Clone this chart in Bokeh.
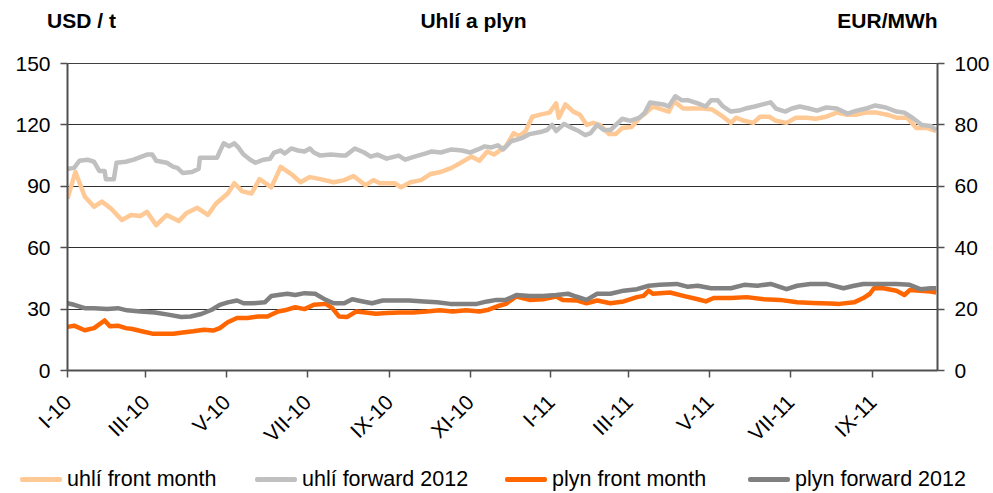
import pandas as pd
from bokeh.plotting import figure
from bokeh.layouts import column
from bokeh.models import (Range1d, LinearAxis, FixedTicker, Div)
from bokeh.embed import file_html
from bokeh.resources import INLINE

# ---------------- data ----------------
START = "2010-01-01"
END_DAY = 657

title_text = "Uhlí a plyn"
left_title = "USD / t"
right_title = "EUR/MWh"

tick_dates = ["2010-01-01", "2010-03-01", "2010-05-01", "2010-07-01", "2010-09-01", "2010-11-01",
              "2011-01-01", "2011-03-01", "2011-05-01", "2011-07-01", "2011-09-01"]
tick_labels = ["I-10", "III-10", "V-10", "VII-10", "IX-10", "XI-10",
               "I-11", "III-11", "V-11", "VII-11", "IX-11"]
left_ticks = [0, 30, 60, 90, 120, 150]
right_ticks = [0, 20, 40, 60, 80, 100]

# uhlí front month (USD/t), days since 2010-01-01
coal_front_day = [0, 6, 13, 20, 26, 33, 41, 48, 55, 60, 67, 75, 84, 90, 98, 106, 112, 121, 126, 132,
                  139, 145, 154, 161, 169, 176, 183, 191, 201, 209, 216, 225, 231, 236, 247, 252, 259,
                  267, 274, 282, 290, 297, 305, 311, 317, 322, 331, 337, 341, 346, 351, 357, 364, 369,
                  371, 376, 382, 387, 392, 397, 402, 409, 414, 419, 426, 432, 437, 442, 447, 454, 458,
                  465, 472, 480, 487, 495, 501, 505, 511, 518, 523, 530, 535, 543, 550, 558, 565, 573,
                  581, 588, 596, 603, 611, 619, 626, 634, 641, 649, 656]
coal_front = [84, 97, 85, 80, 82.5, 79, 73.5, 76, 75.5, 77.5, 71, 76, 73, 77, 79.5, 76, 81.5, 86.5, 91.5, 87.5,
              86.5, 93.5, 89.5, 99.5, 96, 92, 94.5, 93.5, 92, 93, 95, 90.5, 93, 91.5, 91.5, 89.5, 92,
              93, 96, 97, 99, 101.5, 104.5, 102.5, 107, 105.5, 109.5, 116, 114.5, 117, 124, 125, 126, 130.5,
              123.5, 130, 126.5, 125, 120, 121, 120, 115.5, 115.5, 118.5, 119, 123.5, 126, 129, 128, 126.5, 131.5,
              128, 128, 128, 127.5, 124, 121, 123.5, 122, 121, 124, 124, 122, 121, 123.5, 123.5, 123, 124,
              126, 125, 125, 126, 126, 125, 123.5, 123.5, 118.5, 118.5, 117]

# uhlí forward 2012 (USD/t)
coal_fwd_day = [0, 5, 9, 15, 20, 24, 28, 29, 35, 37, 44, 50, 54, 60, 64, 67, 75, 80, 83, 87, 94, 99, 100,
                113, 115, 118, 122, 126, 129, 133, 138, 142, 148, 153, 156, 161, 164, 169, 174, 179, 183,
                186, 191, 199, 207, 210, 217, 224, 229, 234, 241, 250, 255, 262, 270, 275, 282, 290, 298,
                304, 310, 315, 320, 325, 329, 335, 343, 349, 357, 362, 366, 369, 375, 381, 386, 391, 395,
                400, 405, 410, 419, 425, 432, 436, 440, 445, 450, 454, 459, 464, 469, 476, 482, 486, 491,
                495, 501, 507, 512, 519, 525, 531, 535, 542, 547, 553, 560, 566, 573, 581, 589, 596, 603,
                610, 618, 626, 632, 638, 645, 652, 656]
coal_fwd = [98.5, 99, 102.5, 103, 102, 97.5, 97.5, 93.5, 93.5, 101.5, 102, 103, 104, 105.5, 105.5, 102.5,
            101.5, 99.5, 99, 96.5, 97, 98.5, 104, 104, 107, 111, 109.5, 111, 109, 105.5, 103, 101.5, 103,
            103.5, 106.5, 107.5, 106, 108.5, 107.5, 107, 108.5, 106.5, 105, 105.5, 105, 105, 108.5, 106.5,
            104.5, 105.5, 103.5, 105, 103, 104.5, 106, 107, 106.5, 108, 107.5, 106.5, 108, 109.5, 109, 110,
            108, 112, 113.5, 115.5, 116.5, 117.5, 120, 117, 120.5, 118.5, 117, 115, 116, 120, 117.5, 117.5,
            123, 122, 123.5, 126, 131, 130.5, 130, 129, 134, 132, 132, 130.5, 129, 132, 132, 129, 126.5,
            127, 128, 129, 130, 131, 128, 126.5, 128, 129, 128, 127, 128.5, 128, 125.5, 127, 128, 129.5,
            128.5, 126.5, 126, 123.5, 120, 119.5, 117.5]

# plyn front month (EUR/MWh)
gas_front_day = [0, 5, 13, 20, 28, 32, 38, 44, 49, 56, 64, 72, 80, 87, 95, 103, 110, 115, 121, 128, 136,
                 144, 151, 159, 164, 172, 179, 186, 195, 200, 205, 211, 218, 225, 233, 241, 251, 261, 271,
                 281, 291, 301, 311, 318, 326, 331, 339, 349, 359, 369, 374, 385, 392, 400, 410, 420, 430,
                 435, 439, 442, 455, 465, 476, 482, 488, 501, 513, 526, 538, 551, 563, 576, 583, 594, 601,
                 606, 609, 616, 626, 632, 636, 644, 652, 656]
gas_front = [14.2, 14.6, 13.1, 13.8, 16.3, 14.4, 14.6, 13.8, 13.5, 12.8, 12, 12, 12, 12.4, 12.8, 13.3, 13,
             13.8, 15.7, 17.1, 17.1, 17.6, 17.6, 19.2, 19.6, 20.6, 20, 21.4, 21.7, 20.3, 17.6, 17.4, 19.2,
             18.9, 18.5, 18.7, 18.9, 18.9, 19.2, 19.6, 19.2, 19.6, 19.2, 19.8, 21.1, 21.7, 24.1, 23, 23.2,
             24.1, 23, 22.8, 21.9, 22.8, 21.9, 22.5, 23.9, 24.3, 26, 25, 25.4, 24.3, 23.2, 22.5, 23.6, 23.6,
             23.9, 23.2, 23, 22.2, 22, 21.8, 21.7, 22.2, 23.6, 25, 26.8, 26.8, 26, 24.6, 26.2, 26, 25.7, 25.4]

# plyn forward 2012 (EUR/MWh)
gas_fwd_day = [0, 5, 13, 20, 30, 38, 45, 55, 66, 76, 86, 93, 101, 109, 115, 121, 128, 133, 140, 149, 154,
               159, 166, 172, 179, 187, 195, 201, 209, 215, 223, 230, 238, 248, 258, 269, 279, 289, 299,
               309, 317, 324, 331, 339, 349, 359, 369, 378, 384, 392, 400, 410, 420, 430, 439, 447, 460,
               468, 476, 486, 501, 511, 521, 531, 543, 551, 561, 573, 586, 594, 601, 614, 626, 636, 644,
               652, 656]
gas_fwd = [21.9, 21.4, 20.3, 20.3, 20, 20.3, 19.6, 19.2, 18.9, 18.2, 17.4, 17.6, 18.4, 19.8, 21.4, 22.2,
           22.8, 21.9, 21.9, 22.2, 24.3, 24.6, 25, 24.6, 25.2, 25, 23, 21.9, 21.9, 23.2, 22.5, 21.9, 22.8,
           22.8, 22.8, 22.5, 22.2, 21.7, 21.7, 21.7, 22.5, 23, 23, 24.6, 24.3, 24.3, 24.6, 25, 24.1, 23, 25,
           25, 26, 26.5, 27.6, 27.9, 28.2, 27.3, 27.6, 26.8, 26.8, 27.9, 27.6, 28.2, 26.5, 27.6, 28.2, 28.2,
           26.8, 27.6, 28.2, 28.2, 28.2, 27.9, 26.5, 26.8, 26.8]

series_names = ["uhlí front month", "uhlí forward 2012", "plyn front month", "plyn forward 2012"]
series_colors = ["#FFC996", "#C0C0C0", "#FF6600", "#808080"]

# ---------------- helpers ----------------
t0 = pd.Timestamp(START)


def dates(days):
    return [t0 + pd.Timedelta(days=d) for d in days]


FONT = "Liberation Sans"
FRAME_W = 870  # frame width in px (993 - 67 - 56)
LW = 4.5

p = figure(width=993, height=466, x_axis_type="datetime", output_backend="svg", toolbar_location=None,
           x_range=Range1d(t0, t0 + pd.Timedelta(days=END_DAY)), y_range=Range1d(0, 150),
           min_border_left=67, min_border_right=56, min_border_top=63, min_border_bottom=96)
p.outline_line_color = "#404040"
p.outline_line_width = 1
p.background_fill_color = "white"
p.border_fill_color = "white"
p.extra_y_ranges = {"eur": Range1d(0, 100)}
p.extra_x_ranges = {"hdr": Range1d(0, FRAME_W)}

p.line(dates(coal_front_day), coal_front, color=series_colors[0], line_width=LW, line_join="round")
p.line(dates(coal_fwd_day), coal_fwd, color=series_colors[1], line_width=LW, line_join="round")
p.line(dates(gas_front_day), gas_front, color=series_colors[2], line_width=LW, line_join="round",
       y_range_name="eur")
p.line(dates(gas_fwd_day), gas_fwd, color=series_colors[3], line_width=LW, line_join="round",
       y_range_name="eur")

# x axis
tick_ms = [int(pd.Timestamp(d).value // 10**6) for d in tick_dates]
xax = p.xaxis[0]
xax.ticker = FixedTicker(ticks=tick_ms)
xax.major_label_overrides = {ms: lab for ms, lab in zip(tick_ms, tick_labels)}
xax.major_label_orientation = 0.785398
xax.major_label_standoff = 21

# left axis
yax = p.yaxis[0]
yax.ticker = FixedTicker(ticks=left_ticks)
yax.major_label_standoff = 10

# right axis
rax = LinearAxis(y_range_name="eur", ticker=FixedTicker(ticks=right_ticks))
rax.major_label_standoff = 10
p.add_layout(rax, "right")

for ax in (xax, yax, rax):
    ax.axis_line_color = "#505050"
    ax.axis_line_width = 2
    ax.major_tick_line_color = "#505050"
    ax.major_tick_line_width = 1.5
    ax.major_tick_out = 7
    ax.major_tick_in = 0
    ax.minor_tick_line_color = None
    ax.major_label_text_font = FONT
    ax.major_label_text_font_size = "21px"
    ax.major_label_text_color = "black"

# header row: title and unit captions, drawn as labels of a bare top axis
hdr_pos = [14, 406, 820]
hdr_text = [left_title, title_text, right_title]
hax = LinearAxis(x_range_name="hdr", ticker=FixedTicker(ticks=hdr_pos))
hax.major_label_overrides = {pos: t for pos, t in zip(hdr_pos, hdr_text)}
hax.axis_line_color = None
hax.major_tick_line_color = None
hax.minor_tick_line_color = None
hax.major_tick_out = 0
hax.major_tick_in = 0
hax.major_label_standoff = 32
hax.major_label_text_font = FONT
hax.major_label_text_font_size = "21px"
hax.major_label_text_font_style = "bold"
hax.major_label_text_color = "black"
p.add_layout(hax, "above")

p.xgrid.visible = False
p.ygrid.ticker = FixedTicker(ticks=left_ticks)
p.ygrid.grid_line_color = "#303030"
p.ygrid.grid_line_width = 1

# ---------------- legend strip under the chart ----------------
item_widths = [235, 250, 243, 220]  # px slot per legend entry
items_html = "".join(
    f'<span style="display:inline-flex;align-items:center;width:{w}px">'
    f'<span style="display:inline-block;width:42px;height:5px;border-radius:2px;background:{c};'
    f'margin-right:5px"></span><span>{n}</span></span>'
    for n, c, w in zip(series_names, series_colors, item_widths)
)
legend_html = (
    '<div style="display:flex;align-items:center;height:27px;padding-left:20px;'
    "font-family:'Liberation Sans',Arial,sans-serif;font-size:21.5px;color:#000;white-space:nowrap\">"
    + items_html + "</div>"
)
legend_div = Div(text=legend_html, width=993, height=27, margin=(0, 0, 0, 0))

layout = column(p, legend_div, spacing=0)
open("out.html", "w").write(file_html(layout, INLINE))
